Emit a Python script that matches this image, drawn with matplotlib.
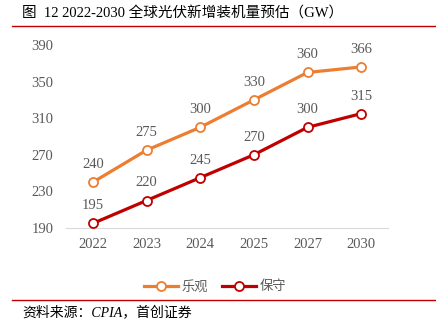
import matplotlib
matplotlib.use("Agg")
import matplotlib.pyplot as plt
from matplotlib.lines import Line2D

plt.rcParams['font.family'] = ['Liberation Serif', 'Noto Sans CJK SC']

years = ['2022', '2023', '2024', '2025', '2027', '2030']
optimistic = [240, 275, 300, 330, 360, 366]
conservative = [195, 220, 245, 270, 300, 315]
yticks = [190, 230, 270, 310, 350, 390]
series_names = ['乐观', '保守']
title = '图  12 2022-2030 全球光伏新增装机量预估（GW）'
source = '资料来源：CPIA，首创证券'

c_opt = '#ED7D31'
c_con = '#C00000'
gray = '#595959'

fig = plt.figure(figsize=(4.36, 3.22), dpi=100)
ax = fig.add_axes([66/436, 1-228/322, (388-66)/436, (228-45)/322])

x = list(range(len(years)))
for vals, col in [(optimistic, c_opt), (conservative, c_con)]:
    ax.plot(x, vals, color=col, lw=2.3, marker='o', ms=6.5,
            mfc='white', mec=col, mew=1.3, zorder=3)
    for xi, v in zip(x, vals):
        ax.annotate(str(v), (xi, v), xytext=(0, 8), textcoords='offset points',
                    ha='center', va='bottom', fontsize=10.5, color=gray)

ax.set_xlim(-0.5, len(years)-0.5)
ax.set_ylim(190, 390)
ax.set_yticks(yticks)
ax.set_xticks(x)
ax.set_xticklabels(years)
for s in ['top', 'right', 'left']:
    ax.spines[s].set_visible(False)
ax.spines['bottom'].set_color('#d9d9d9')
ax.tick_params(axis='both', length=0, labelsize=10.5, colors=gray)
ax.tick_params(axis='x', pad=7)
ax.tick_params(axis='y', pad=9)

handles = [Line2D([0], [0], color=c_opt, lw=2.3, marker='o', ms=6.5, mfc='white', mec=c_opt, mew=1.3),
           Line2D([0], [0], color=c_con, lw=2.3, marker='o', ms=6.5, mfc='white', mec=c_con, mew=1.3)]
leg = fig.legend(handles, series_names, loc='center', bbox_to_anchor=(215/436, 1-287/322),
                 ncol=2, frameon=False, fontsize=9.5, handlelength=2.6, columnspacing=1.0,
                 handletextpad=0.3)
for t in leg.get_texts():
    t.set_color(gray)

fig.text(22/436, 1-13/322, title, fontsize=10.5, va='center', ha='left', color='black')
fig.add_artist(Line2D([12/436, 1], [1-26/322, 1-26/322], color='#C00000', lw=1))
fig.add_artist(Line2D([12/436, 1], [1-300/322, 1-300/322], color='#C00000', lw=1))
fig.text(22/436, 1-312/322, source, fontsize=10, va='center', ha='left', style='italic', color='black')

fig.savefig('out.png', dpi=100)
